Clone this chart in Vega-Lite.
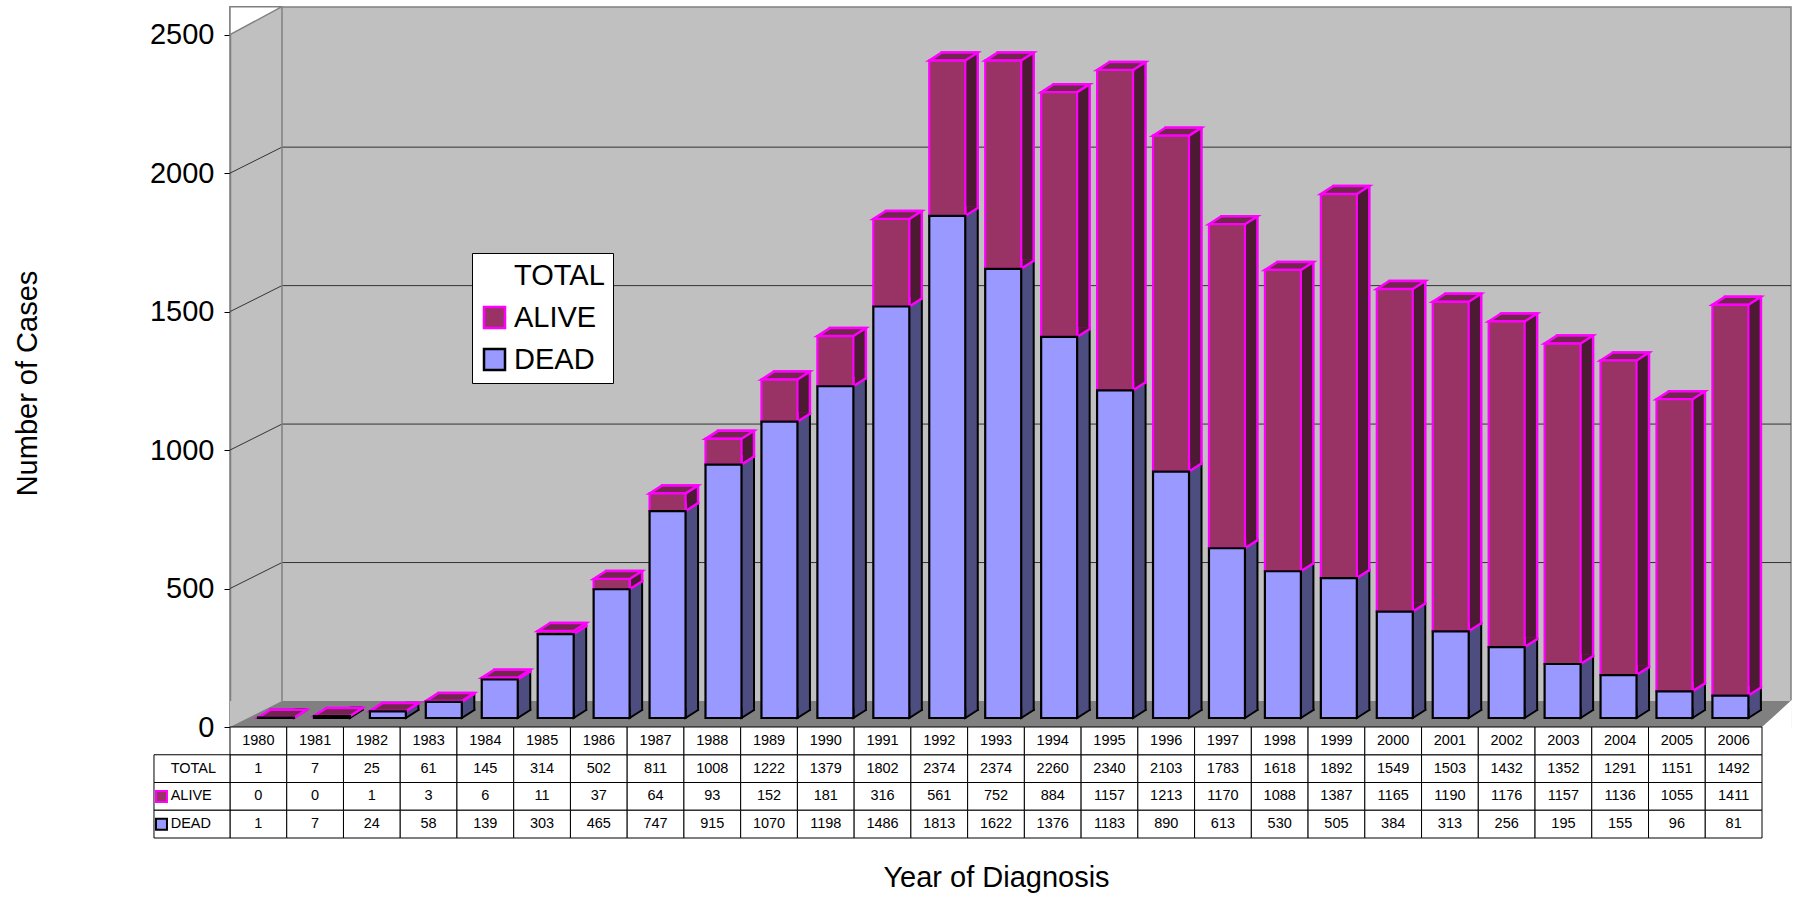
{
  "$schema": "https://vega.github.io/schema/vega-lite/v6.json",
  "padding": {"left": 13, "top": 2, "right": 5, "bottom": 5},
  "config": {"font": "Liberation Sans", "view": {"stroke": null}},
  "datasets": {
    "cases": [
      {"year": "1980", "TOTAL": 1, "ALIVE": 0, "DEAD": 1},
      {"year": "1981", "TOTAL": 7, "ALIVE": 0, "DEAD": 7},
      {"year": "1982", "TOTAL": 25, "ALIVE": 1, "DEAD": 24},
      {"year": "1983", "TOTAL": 61, "ALIVE": 3, "DEAD": 58},
      {"year": "1984", "TOTAL": 145, "ALIVE": 6, "DEAD": 139},
      {"year": "1985", "TOTAL": 314, "ALIVE": 11, "DEAD": 303},
      {"year": "1986", "TOTAL": 502, "ALIVE": 37, "DEAD": 465},
      {"year": "1987", "TOTAL": 811, "ALIVE": 64, "DEAD": 747},
      {"year": "1988", "TOTAL": 1008, "ALIVE": 93, "DEAD": 915},
      {"year": "1989", "TOTAL": 1222, "ALIVE": 152, "DEAD": 1070},
      {"year": "1990", "TOTAL": 1379, "ALIVE": 181, "DEAD": 1198},
      {"year": "1991", "TOTAL": 1802, "ALIVE": 316, "DEAD": 1486},
      {"year": "1992", "TOTAL": 2374, "ALIVE": 561, "DEAD": 1813},
      {"year": "1993", "TOTAL": 2374, "ALIVE": 752, "DEAD": 1622},
      {"year": "1994", "TOTAL": 2260, "ALIVE": 884, "DEAD": 1376},
      {"year": "1995", "TOTAL": 2340, "ALIVE": 1157, "DEAD": 1183},
      {"year": "1996", "TOTAL": 2103, "ALIVE": 1213, "DEAD": 890},
      {"year": "1997", "TOTAL": 1783, "ALIVE": 1170, "DEAD": 613},
      {"year": "1998", "TOTAL": 1618, "ALIVE": 1088, "DEAD": 530},
      {"year": "1999", "TOTAL": 1892, "ALIVE": 1387, "DEAD": 505},
      {"year": "2000", "TOTAL": 1549, "ALIVE": 1165, "DEAD": 384},
      {"year": "2001", "TOTAL": 1503, "ALIVE": 1190, "DEAD": 313},
      {"year": "2002", "TOTAL": 1432, "ALIVE": 1176, "DEAD": 256},
      {"year": "2003", "TOTAL": 1352, "ALIVE": 1157, "DEAD": 195},
      {"year": "2004", "TOTAL": 1291, "ALIVE": 1136, "DEAD": 155},
      {"year": "2005", "TOTAL": 1151, "ALIVE": 1055, "DEAD": 96},
      {"year": "2006", "TOTAL": 1492, "ALIVE": 1411, "DEAD": 81}
    ],
    "grid": [{"g": 500}, {"g": 1000}, {"g": 1500}, {"g": 2000}],
    "labels": [{"row": "TOTAL"}, {"row": "ALIVE"}, {"row": "DEAD"}]
  },
  "spacing": 0,
  "bounds": "flush",
  "vconcat": [
    {
      "width": 1561,
      "height": 720,
      "view": {"fill": "#C0C0C0", "stroke": "#808080", "strokeWidth": 1.5},
      "layer": [
        {
          "data": {"values": [{}]},
          "mark": {"type": "rect", "fill": "#808080", "y2Offset": -26},
          "encoding": {
            "y": {
              "datum": 0, "type": "quantitative", "scale": {"domain": [0, 2600], "nice": false},
              "axis": {
                "values": [0, 500, 1000, 1500, 2000, 2500], "format": "d",
                "grid": false, "tickSize": 6, "tickColor": "black", "tickWidth": 1,
                "domainColor": "#808080", "domainWidth": 1.5,
                "labelFontSize": 29, "labelColor": "black", "labelPadding": 10,
                "title": "Number of Cases", "titleFontSize": 29, "titleFontWeight": "normal",
                "titleColor": "black", "titlePadding": 106.5, "titleY": 376
              }
            },
            "y2": {"datum": 0}
          }
        },
        {
          "data": {"values": [{}]},
          "mark": {"type": "point", "shape": "M -46 0 L 6 -26 L -46 -26 Z", "size": 4, "filled": true, "fill": "#C0C0C0", "strokeWidth": 0, "opacity": 1},
          "encoding": {
            "x": {"datum": "1980", "type": "ordinal", "scale": {"paddingInner": 0.3565, "paddingOuter": 0.6308, "align": 0.3966}, "axis": null},
            "y": {"datum": 0, "type": "quantitative"}
          }
        },
        {
          "data": {"values": [{}]},
          "mark": {"type": "point", "shape": "M -46 0 L 6 -28 L -46 -28 Z", "size": 4, "filled": true, "fill": "white", "stroke": "#808080", "strokeWidth": 1.5, "opacity": 1},
          "encoding": {
            "x": {"datum": "1980", "type": "ordinal", "axis": null},
            "y": {"datum": 2500, "type": "quantitative"}
          }
        },
        {
          "data": {"values": [{}]},
          "mark": {"type": "point", "shape": "M 31.6 0 L 61.5 -27.2 L 61.5 2 L 31.6 2 Z", "size": 4, "filled": true, "fill": "white", "strokeWidth": 0, "opacity": 1},
          "encoding": {
            "x": {"datum": "2006", "type": "ordinal", "axis": null},
            "y": {"datum": 0, "type": "quantitative"}
          }
        },
        {
          "data": {"name": "grid"},
          "mark": {"type": "rule", "color": "#333333", "strokeWidth": 1, "yOffset": -26, "xOffset": 6, "x2Offset": 60.6},
          "encoding": {
            "x": {"datum": "1980", "type": "ordinal", "axis": null},
            "x2": {"datum": "2006"},
            "y": {"field": "g", "type": "quantitative"}
          }
        },
        {
          "data": {"name": "grid"},
          "mark": {"type": "point", "shape": "M -46 0 L 6 -26", "size": 4, "filled": false, "stroke": "#333333", "strokeWidth": 1, "opacity": 1},
          "encoding": {
            "x": {"datum": "1980", "type": "ordinal", "axis": null},
            "y": {"field": "g", "type": "quantitative"}
          }
        },
        {
          "data": {"values": [{}]},
          "mark": {"type": "rule", "color": "#808080", "strokeWidth": 1.5, "xOffset": 6, "yOffset": -26},
          "encoding": {
            "x": {"datum": "1980", "type": "ordinal", "axis": null},
            "y": {"datum": 0, "type": "quantitative"},
            "y2": {"datum": 2600}
          }
        },
        {
          "data": {"name": "cases"},
          "mark": {"type": "bar", "fill": "#4D4D80", "stroke": "black", "strokeWidth": 2, "xOffset": 12.5, "yOffset": -17, "y2Offset": -17},
          "encoding": {
            "x": {"field": "year", "type": "ordinal", "axis": null},
            "y": {"field": "DEAD", "type": "quantitative"},
            "y2": {"datum": 0}
          }
        },
        {
          "data": {"name": "cases"},
          "mark": {"type": "bar", "fill": "#4D1A33", "stroke": "#FF00FF", "strokeWidth": 2.5, "xOffset": 12.5, "yOffset": -17, "y2Offset": -17},
          "encoding": {
            "x": {"field": "year", "type": "ordinal", "axis": null},
            "y": {"field": "TOTAL", "type": "quantitative"},
            "y2": {"field": "DEAD"}
          }
        },
        {
          "data": {"name": "cases"},
          "mark": {"type": "point", "shape": "M 18 -9.5 L 18 0 L 30.5 -8 L 30.5 -9.5", "size": 4, "filled": true, "fill": "#4D4D80", "stroke": "black", "strokeWidth": 2, "opacity": 1, "yOffset": -9},
          "encoding": {
            "x": {"field": "year", "type": "ordinal", "axis": null},
            "y": {"datum": 0, "type": "quantitative"}
          }
        },
        {
          "data": {"name": "cases"},
          "mark": {"type": "point", "shape": "M 18 -9.5 L 18 0 L 30.5 -8 L 30.5 -9.5", "size": 4, "filled": true, "fill": "#4D1A33", "stroke": "#FF00FF", "strokeWidth": 2.5, "opacity": 1, "yOffset": -9},
          "encoding": {
            "x": {"field": "year", "type": "ordinal", "axis": null},
            "y": {"field": "DEAD", "type": "quantitative"}
          }
        },
        {
          "data": {"name": "cases"},
          "mark": {"type": "point", "shape": "M -18 0 L 18 0 L 30.5 -8 L -5.5 -8 Z", "size": 4, "filled": true, "fill": "#73264D", "stroke": "#FF00FF", "strokeWidth": 2.5, "opacity": 1, "yOffset": -9},
          "encoding": {
            "x": {"field": "year", "type": "ordinal", "axis": null},
            "y": {"field": "TOTAL", "type": "quantitative"}
          }
        },
        {
          "data": {"name": "cases"},
          "transform": [{"fold": ["ALIVE", "DEAD"], "as": ["status", "count"]}],
          "mark": {"type": "bar", "strokeWidth": 2.2, "yOffset": -9, "y2Offset": -9},
          "encoding": {
            "x": {"field": "year", "type": "ordinal", "axis": null},
            "y": {"field": "count", "type": "quantitative", "stack": "zero"},
            "order": {"field": "status", "type": "nominal", "sort": "descending"},
            "fill": {
              "field": "status", "type": "nominal",
              "scale": {"domain": ["TOTAL", "ALIVE", "DEAD"], "range": ["transparent", "#993366", "#9999FF"]},
              "legend": {
                "title": null, "orient": "none", "legendX": 242, "legendY": 246,
                "fillColor": "white", "strokeColor": "black", "padding": 8,
                "labelFontSize": 29, "labelColor": "black", "labelOffset": 5,
                "symbolType": "square", "symbolSize": 441, "symbolStrokeWidth": 2.5,
                "rowPadding": 11
              }
            },
            "stroke": {
              "field": "status", "type": "nominal",
              "scale": {"domain": ["TOTAL", "ALIVE", "DEAD"], "range": ["transparent", "#FF00FF", "#000000"]},
              "legend": {
                "title": null, "orient": "none", "legendX": 242, "legendY": 246,
                "fillColor": "white", "strokeColor": "black", "padding": 8,
                "labelFontSize": 29, "labelColor": "black", "labelOffset": 5,
                "symbolType": "square", "symbolSize": 441, "symbolStrokeWidth": 2.5,
                "rowPadding": 11
              }
            }
          }
        }
      ]
    },
    {
      "width": 1532,
      "height": 111,
      "layer": [
        {
          "data": {"name": "cases"},
          "transform": [{"fold": ["TOTAL", "ALIVE", "DEAD"], "as": ["row", "val"]}],
          "mark": {"type": "rect", "fill": "white", "stroke": "black", "strokeWidth": 1},
          "encoding": {
            "x": {
              "field": "year", "type": "ordinal", "scale": {"paddingInner": 0, "paddingOuter": 0},
              "axis": {"title": "Year of Diagnosis", "labels": false, "ticks": false, "domain": false, "grid": false, "titleFontSize": 29, "titleFontWeight": "normal", "titleColor": "black", "titlePadding": 25}
            },
            "y": {"field": "row", "type": "nominal", "scale": {"domain": ["YEAR", "TOTAL", "ALIVE", "DEAD"], "paddingInner": 0, "paddingOuter": 0}, "axis": null}
          }
        },
        {
          "data": {"name": "cases"},
          "mark": {"type": "rect", "fill": "white", "stroke": "black", "strokeWidth": 1},
          "encoding": {
            "x": {"field": "year", "type": "ordinal"},
            "y": {"datum": "YEAR", "type": "nominal", "axis": null}
          }
        },
        {
          "data": {"name": "cases"},
          "transform": [{"fold": ["TOTAL", "ALIVE", "DEAD"], "as": ["row", "val"]}],
          "mark": {"type": "text", "fontSize": 14.5, "color": "black", "baseline": "middle"},
          "encoding": {
            "x": {"field": "year", "type": "ordinal"},
            "y": {"field": "row", "type": "nominal", "axis": null},
            "text": {"field": "val", "type": "quantitative", "format": "d"}
          }
        },
        {
          "data": {"name": "cases"},
          "mark": {"type": "text", "fontSize": 14.5, "color": "black", "baseline": "middle"},
          "encoding": {
            "x": {"field": "year", "type": "ordinal"},
            "y": {"datum": "YEAR", "type": "nominal", "axis": null},
            "text": {"field": "year"}
          }
        },
        {
          "data": {"name": "labels"},
          "mark": {"type": "rect", "fill": "white", "stroke": "black", "strokeWidth": 1, "width": 76, "xOffset": -66.4},
          "encoding": {
            "x": {"datum": "1980", "type": "ordinal"},
            "y": {"field": "row", "type": "nominal", "axis": null}
          }
        },
        {
          "data": {"name": "labels"},
          "mark": {"type": "text", "align": "left", "baseline": "middle", "xOffset": -87.7, "fontSize": 14.5, "color": "black"},
          "encoding": {
            "x": {"datum": "1980", "type": "ordinal"},
            "y": {"field": "row", "type": "nominal", "axis": null},
            "text": {"field": "row"}
          }
        },
        {
          "data": {"name": "labels"},
          "transform": [{"filter": "datum.row !== 'TOTAL'"}],
          "mark": {"type": "point", "shape": "square", "filled": true, "size": 121, "xOffset": -96.9, "strokeWidth": 2, "opacity": 1},
          "encoding": {
            "x": {"datum": "1980", "type": "ordinal"},
            "y": {"field": "row", "type": "nominal", "axis": null},
            "fill": {"condition": {"test": "datum.row === 'ALIVE'", "value": "#993366"}, "value": "#9999FF"},
            "stroke": {"condition": {"test": "datum.row === 'ALIVE'", "value": "#FF00FF"}, "value": "black"}
          }
        }
      ]
    }
  ]
}
